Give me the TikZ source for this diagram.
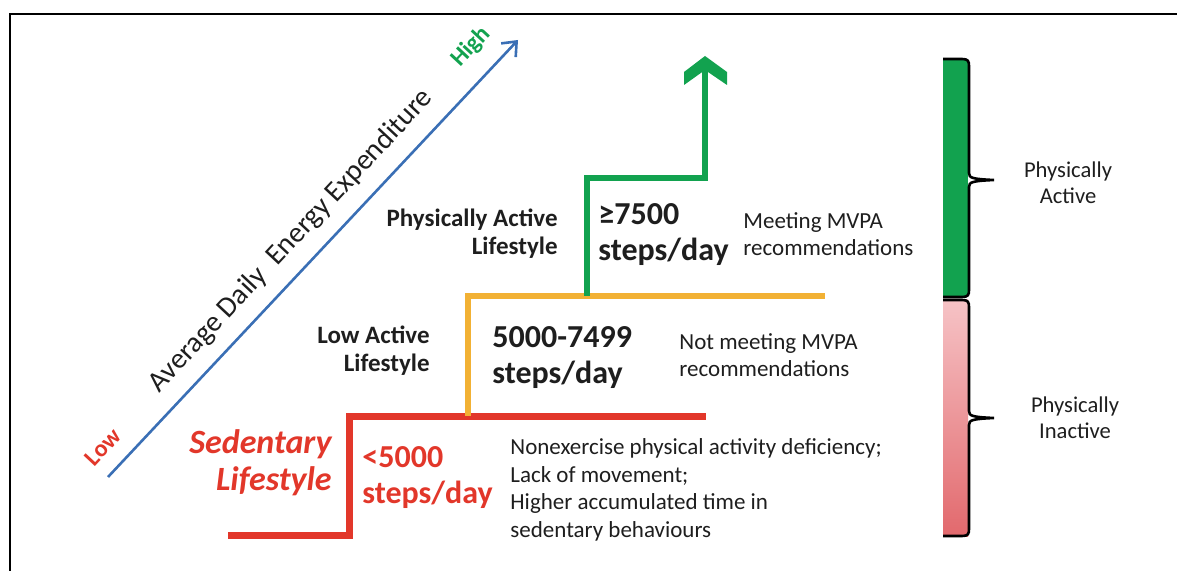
\documentclass[tikz,border=0pt]{standalone}
\usepackage{fontspec}
\setmainfont{Carlito}
\usetikzlibrary{arrows.meta}
\definecolor{stepred}{HTML}{E2372A}
\definecolor{steporange}{HTML}{F2B134}
\definecolor{stepgreen}{HTML}{12A24F}
\definecolor{axisblue}{HTML}{3A6FB5}
\definecolor{pinktop}{HTML}{F6C3C6}
\definecolor{pinkbot}{HTML}{E2696D}
\definecolor{txtgray}{HTML}{1E1E1E}
\begin{document}
\begin{tikzpicture}[x=0.5pt,y=-0.5pt,
  lbl/.style={text=txtgray, font=\fontsize{12.5}{14}\selectfont\bfseries, align=right, anchor=east, inner sep=0pt},
  big/.style={text=txtgray, font=\fontsize{16}{18}\selectfont\bfseries, align=left, anchor=west, inner sep=0pt},
  note/.style={text=txtgray, font=\fontsize{11.5}{13.8}\selectfont, align=left, anchor=west, inner sep=0pt},
  side/.style={text=txtgray, font=\fontsize{11.3}{13}\selectfont, align=center, inner sep=0pt},
  bracestyle/.style={draw=black, line width=1.3pt}]
  \useasboundingbox (0,0) rectangle (1177,571);
  \draw[line width=1.2pt] (10,571) -- (10,14) -- (1177,14);

  % axis
  \coordinate (axlo) at (108,477);
  \coordinate (axhi) at (518,40);
  \draw[axisblue, line width=1.3pt, -{Straight Barb[length=6pt,width=10pt]}] (axlo) -- (axhi);
  \node[side, rotate=47, text=stepred, font=\fontsize{12}{13}\selectfont\bfseries] (low) at (103,447) {Low};
  \node[side, rotate=47, text=stepgreen, font=\fontsize{12}{13}\selectfont\bfseries] (high) at (471,47) {High};
  \node[side, rotate=47, font=\fontsize{14.5}{15}\selectfont] (aee) at (291,241) {Average Daily~~Energy Expenditure};

  % steps
  \draw[stepred, line width=3.5pt] (228,535) -- (349,535) -- (349,416) -- (706,416);
  \draw[steporange, line width=3pt] (468,416) -- (468,296) -- (825,296);
  \draw[stepgreen, line width=2.8pt] (587,296) -- (587,178) -- (705,178) -- (705,70);
  \fill[stepgreen] (705,56) -- (727,72) -- (727,85) -- (705,70) -- (684,85) -- (684,72) -- cycle;

  % left labels
  \node[lbl] (pal) at (558,234) {Physically Active\\Lifestyle};
  \node[lbl] (lal) at (430,351) {Low Active\\Lifestyle};
  \node[lbl, text=stepred, font=\fontsize{17}{18.5}\selectfont\bfseries\itshape] (sed) at (332,463) {Sedentary\\Lifestyle};

  % step counts
  \node[big] (s7500) at (598,235) {≥7500\\steps/day};
  \node[big] (s5000) at (492,358) {5000-7499\\steps/day};
  \node[big, text=stepred] (s0) at (362,478) {<5000\\steps/day};

  % notes
  \node[note] (meet) at (743,234) {Meeting MVPA\\recommendations};
  \node[note] (notmeet) at (679,355) {Not meeting MVPA\\recommendations};
  \node[note] (nonex) at (510,490) {Nonexercise physical activity deficiency;\\Lack of movement;\\Higher accumulated time in\\sedentary behaviours};

  % bars
  \fill[stepgreen] (943,60) rectangle (968,297);
  \shade[top color=pinktop, bottom color=pinkbot] (943,300) rectangle (968,536);
  \draw[bracestyle] (943,59) -- (962,59) .. controls (968,59) and (969,61) .. (969,66) -- (969,173)
    .. controls (969,178) and (972,179) .. (994,180) .. controls (972,181) and (969,182) .. (969,187)
    -- (969,290) .. controls (969,295) and (968,297) .. (962,297) -- (943,297);
  \draw[bracestyle] (943,300) -- (962,300) .. controls (968,300) and (969,302) .. (969,307) -- (969,411)
    .. controls (969,416) and (972,417) .. (994,418) .. controls (972,419) and (969,420) .. (969,425)
    -- (969,529) .. controls (969,534) and (968,536) .. (962,536) -- (943,536);
  \node[side] (pa) at (1068,183) {Physically\\Active};
  \node[side] (pi) at (1075,418) {Physically\\Inactive};
\end{tikzpicture}
\end{document}
